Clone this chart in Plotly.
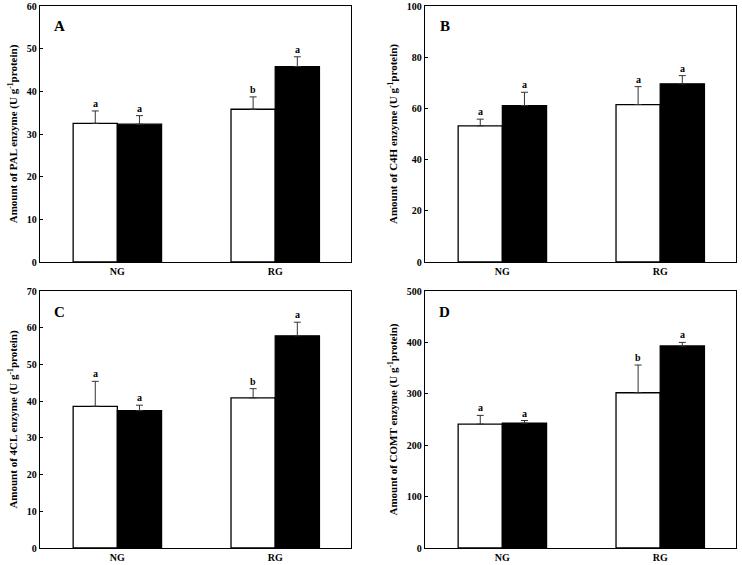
import plotly.graph_objects as go

categories = ["NG", "RG"]

pal_white = [32.5, 35.8]
pal_white_err = [2.9, 2.9]
pal_black = [32.3, 45.8]
pal_black_err = [2.0, 2.3]
pal_letters_white = ["a", "b"]
pal_letters_black = ["a", "a"]

c4h_white = [53.2, 61.5]
c4h_white_err = [2.6, 7.0]
c4h_black = [61.1, 69.6]
c4h_black_err = [5.2, 3.2]
c4h_letters_white = ["a", "a"]
c4h_letters_black = ["a", "a"]

cl4_white = [38.6, 40.9]
cl4_white_err = [6.8, 2.5]
cl4_black = [37.4, 57.8]
cl4_black_err = [1.5, 3.7]
cl4_letters_white = ["a", "b"]
cl4_letters_black = ["a", "a"]

comt_white = [241, 302]
comt_white_err = [17, 54]
comt_black = [243, 393]
comt_black_err = [5, 7]
comt_letters_white = ["a", "b"]
comt_letters_black = ["a", "a"]

panels = [
    dict(label="A", enzyme="PAL", w=pal_white, we=pal_white_err, b=pal_black, be=pal_black_err,
         lw=pal_letters_white, lb=pal_letters_black, ymax=60, dtick=10),
    dict(label="B", enzyme="C4H", w=c4h_white, we=c4h_white_err, b=c4h_black, be=c4h_black_err,
         lw=c4h_letters_white, lb=c4h_letters_black, ymax=100, dtick=20),
    dict(label="C", enzyme="4CL", w=cl4_white, we=cl4_white_err, b=cl4_black, be=cl4_black_err,
         lw=cl4_letters_white, lb=cl4_letters_black, ymax=70, dtick=10),
    dict(label="D", enzyme="COMT", w=comt_white, we=comt_white_err, b=comt_black, be=comt_black_err,
         lw=comt_letters_white, lb=comt_letters_black, ymax=500, dtick=100),
]

W, H = 742, 565
# pixel boxes (left, right, top, bottom)
boxes = [(40, 351, 6, 262), (425, 736, 6, 262), (40, 351, 291, 548), (425, 736, 291, 548)]

FONT = "Liberation Serif, Times New Roman, serif"
fig = go.Figure()
xpos = [0, 1]
half = 0.14

for i, p in enumerate(panels):
    n = "" if i == 0 else str(i + 1)
    xa, ya = "x" + n, "y" + n
    fig.add_trace(go.Bar(x=xpos, y=p["w"], xaxis=xa, yaxis=ya,
                         marker=dict(color="white", line=dict(color="black", width=1.3)),
                         error_y=dict(type="data", symmetric=False, array=p["we"],
                                      arrayminus=[0, 0], color="#333", thickness=1, width=3.5),
                         showlegend=False, offsetgroup="w"))
    fig.add_trace(go.Bar(x=xpos, y=p["b"], xaxis=xa, yaxis=ya,
                         marker=dict(color="black", line=dict(color="black", width=1.3)),
                         error_y=dict(type="data", symmetric=False, array=p["be"],
                                      arrayminus=[0, 0], color="#333", thickness=1, width=3.5),
                         showlegend=False, offsetgroup="b"))
    l, r, t, b = boxes[i]
    fig.layout["xaxis" + n] = dict(
        domain=[l / W, r / W], anchor=ya, range=[-0.49, 1.48], automargin=False,
        tickvals=xpos, ticktext=categories, ticks="", showline=True, mirror=True,
        linecolor="black", linewidth=1.3, showgrid=False, zeroline=False,
        tickfont=dict(family=FONT, size=10, color="black", weight="bold"))
    fig.layout["yaxis" + n] = dict(
        domain=[1 - b / H, 1 - t / H], anchor=xa, range=[0, p["ymax"]], dtick=p["dtick"],
        automargin=False,
        ticks="inside", ticklen=3, tickcolor="black", showline=True, mirror=True,
        linecolor="black", linewidth=1.3, showgrid=False, zeroline=False,
        tickfont=dict(family=FONT, size=10, color="black", weight="bold"),
        title=dict(text="Amount of " + p["enzyme"] + " enzyme (U g<sup>-1</sup>protein)",
                   font=dict(family=FONT, size=11, color="black", weight="bold"), standoff=6))
    for j in range(2):
        fig.add_annotation(x=xpos[j] - half, y=p["w"][j] + p["we"][j], xref=xa, yref=ya,
                           text=p["lw"][j], showarrow=False, yanchor="bottom", yshift=0,
                           font=dict(family=FONT, size=10, color="black", weight="bold"))
        fig.add_annotation(x=xpos[j] + half, y=p["b"][j] + p["be"][j], xref=xa, yref=ya,
                           text=p["lb"][j], showarrow=False, yanchor="bottom", yshift=0,
                           font=dict(family=FONT, size=10, color="black", weight="bold"))
    fig.add_annotation(x=0.064, y=0.92, xref=xa + " domain", yref=ya + " domain",
                       text=p["label"], showarrow=False, xanchor="center", yanchor="middle",
                       font=dict(family=FONT, size=15, color="black", weight="bold"))

fig.update_layout(width=W, height=H, margin=dict(l=0, r=0, t=0, b=0, autoexpand=False),
                  barmode="group", bargap=0.44, bargroupgap=0,
                  plot_bgcolor="white", paper_bgcolor="white",
                  font=dict(family=FONT, size=10, color="black", weight="bold"))
fig.write_html("out.html", config={"displayModeBar": False},
               post_script="document.body.style.margin='0';")
